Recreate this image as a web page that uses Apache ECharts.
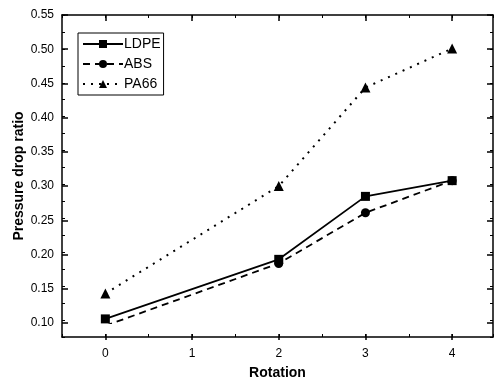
<!DOCTYPE html>
<html>
<head>
<meta charset="utf-8">
<script src="https://cdn.jsdelivr.net/npm/echarts@6/dist/echarts.min.js"></script>
<style>html,body{margin:0;padding:0;background:#fff}#c{width:496px;height:385px}</style>
</head>
<body>
<div id="c"></div>
<script>
const rotation = [0, 2, 3, 4];
const ldpe = [0.106, 0.193, 0.285, 0.308];
const abs = [0.096, 0.187, 0.261, 0.308];
const pa66 = [0.143, 0.300, 0.444, 0.501];
const xTickLabels = ['0', '1', '2', '3', '4'];
const yTickLabels = ['0.10','0.15','0.20','0.25','0.30','0.35','0.40','0.45','0.50','0.55'];

const F = 'Liberation Sans, Arial, sans-serif';
const chart = echarts.init(document.getElementById('c'), null, {renderer: 'canvas'});
const pairs = a => rotation.map((r, i) => [r, a[i]]);
const black = '#000';

const minorX = {min: -0.5, max: 4.47, interval: 0.5};
const minorY = {min: 0.075, max: 0.55, interval: 0.025};
const majorX = {min: 0, max: 4, interval: 1};
const majorY = {min: 0.10, max: 0.55, interval: 0.05};

function frameAxis(pos, range, gi) {
  return Object.assign({
    type: 'value', gridIndex: gi, position: pos,
    axisLine: {show: true, onZero: false, lineStyle: {color: black, width: 1.5}},
    axisTick: {show: true, inside: true, length: 3, lineStyle: {color: black, width: 1}},
    axisLabel: {show: false}, splitLine: {show: false}
  }, range);
}
function majorAxis(pos, range, gi, labels) {
  return Object.assign({
    type: 'value', gridIndex: gi, position: pos,
    axisLine: {show: false, onZero: false},
    axisTick: {show: true, inside: true, length: 6, lineStyle: {color: black, width: 1.5}},
    axisLabel: labels || {show: false}, splitLine: {show: false}
  }, range);
}
function hidden(range, gi) {
  return Object.assign({type: 'value', gridIndex: gi, show: false}, range);
}

const option = {
  backgroundColor: '#fff',
  animation: false,
  grid: [
    {left: 62, right: 3, top: 15, bottom: 45},          // frame + minor ticks
    {left: 105.35, right: 43.85, top: 15, bottom: 45},  // x major ticks
    {left: 62, right: 3, top: 15, bottom: 62},          // y major ticks
    {left: 105.35, right: 43.85, top: 15, bottom: 62}   // data
  ],
  xAxis: [
    Object.assign(frameAxis('bottom', minorX, 0), {
      name: 'Rotation', nameLocation: 'middle', nameGap: 29,
      nameTextStyle: {fontFamily: F, fontSize: 14, fontWeight: 'bold', color: black}
    }),
    frameAxis('top', minorX, 0),
    majorAxis('bottom', majorX, 1, {
      show: true, margin: 8, fontFamily: F, fontSize: 12, color: black,
      formatter: v => xTickLabels[Math.round(v)]
    }),
    majorAxis('top', majorX, 1),
    hidden(minorX, 2),
    hidden(majorX, 3)
  ],
  yAxis: [
    Object.assign(frameAxis('left', minorY, 0), {
      name: 'Pressure drop ratio', nameLocation: 'middle', nameGap: 36,
      nameTextStyle: {fontFamily: F, fontSize: 14, fontWeight: 'bold', color: black}
    }),
    frameAxis('right', minorY, 0),
    hidden(minorY, 1),
    majorAxis('left', majorY, 2, {
      show: true, margin: 8, fontFamily: F, fontSize: 12, color: black,
      formatter: v => yTickLabels[Math.round((v - 0.10) / 0.05)]
    }),
    majorAxis('right', majorY, 2),
    hidden(majorY, 3)
  ],
  legend: {
    left: 78, top: 33, orient: 'vertical',
    backgroundColor: '#fff', borderColor: black, borderWidth: 1,
    padding: [4, 3, 4, 4], itemGap: 6, itemWidth: 40, itemHeight: 10,
    textStyle: {fontFamily: F, fontSize: 14, color: black, padding: [0, 0, 0, -4]},
    data: ['LDPE', 'ABS', 'PA66']
  },
  series: [
    {name: 'LDPE', type: 'line', xAxisIndex: 5, yAxisIndex: 5, data: pairs(ldpe),
     symbol: 'rect', symbolSize: 9, lineStyle: {color: black, width: 1.8, type: 'solid'},
     itemStyle: {color: black}},
    {name: 'ABS', type: 'line', xAxisIndex: 5, yAxisIndex: 5, data: pairs(abs),
     symbol: 'circle', symbolSize: 9, lineStyle: {color: black, width: 1.8, type: [7, 5]},
     itemStyle: {color: black}},
    {name: 'PA66', type: 'line', xAxisIndex: 5, yAxisIndex: 5, data: pairs(pa66),
     symbol: 'triangle', symbolSize: 10, lineStyle: {color: black, width: 2, type: [2, 6]},
     itemStyle: {color: black}}
  ]
};
chart.setOption(option);
</script>
</body>
</html>
